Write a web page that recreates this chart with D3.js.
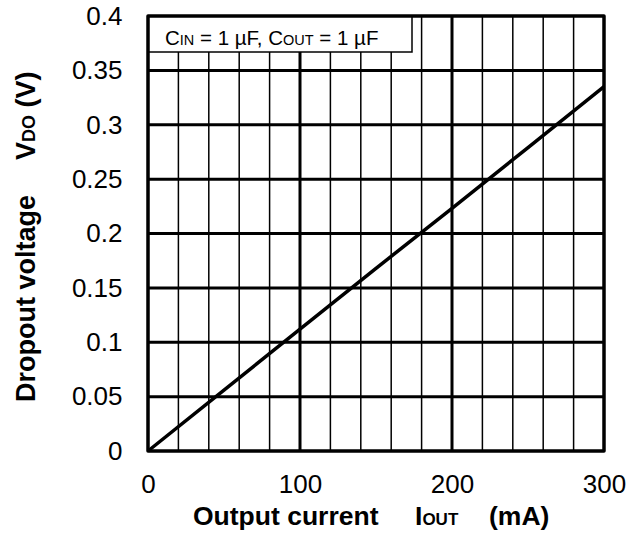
<!DOCTYPE html>
<html>
<head>
<meta charset="utf-8">
<script src="https://cdn.jsdelivr.net/npm/d3@7"></script>
<style>
  body { margin: 0; background: #fff; }
  text { font-family: "Liberation Sans", Arial, sans-serif; fill: #000; }
</style>
</head>
<body>
<script>
// data
var currents = [0, 50, 100, 150, 200, 250, 300];          // mA
var dropout = [0, 0.056, 0.112, 0.168, 0.223, 0.279, 0.335]; // V
var xTicks = [0, 100, 200, 300];
var yTicks = [0, 0.05, 0.1, 0.15, 0.2, 0.25, 0.3, 0.35, 0.4];
var xMinor = d3.range(20, 300, 20);
var legendText = ["C", "IN", " = 1 µF, C", "OUT", " = 1 µF"];

var width = 637, height = 535;
var plotL = 148, plotR = 604, plotT = 16, plotB = 451;

var svg = d3.select("body").append("svg")
	.attr("width", width)
	.attr("height", height);

var x = d3.scaleLinear().domain([0, 300]).range([plotL, plotR]);
var y = d3.scaleLinear().domain([0, 0.4]).range([plotB, plotT]);

// vertical grid, thin minor and thick major
svg.selectAll("line.vgrid")
	.data(xMinor)
	.enter()
	.append("line")
	.attr("x1", function(d) { return x(d); })
	.attr("x2", function(d) { return x(d); })
	.attr("y1", plotT)
	.attr("y2", plotB)
	.attr("stroke", "#000")
	.attr("stroke-width", function(d) { return d % 100 === 0 ? 3 : 1.5; });

// horizontal grid
svg.selectAll("line.hgrid")
	.data(yTicks.slice(1, -1))
	.enter()
	.append("line")
	.attr("x1", plotL)
	.attr("x2", plotR)
	.attr("y1", function(d) { return y(d); })
	.attr("y2", function(d) { return y(d); })
	.attr("stroke", "#000")
	.attr("stroke-width", 3);

// the curve
var line = d3.line()
	.x(function(d, i) { return x(currents[i]); })
	.y(function(d) { return y(d); });

svg.append("path")
	.datum(dropout)
	.attr("d", line)
	.attr("fill", "none")
	.attr("stroke", "#000")
	.attr("stroke-width", 3.5);

// legend box
var legend = svg.append("g");
legend.append("rect")
	.attr("x", plotL)
	.attr("y", plotT)
	.attr("width", 264)
	.attr("height", 36)
	.attr("fill", "#fff")
	.attr("stroke", "#000")
	.attr("stroke-width", 1.5);

var lt = legend.append("text")
	.attr("x", 165)
	.attr("y", 45)
	.style("font-size", "20.5px");
legendText.forEach(function(s, i) {
	var t = lt.append("tspan").text(s);
	if (i % 2 === 1) {
		t.style("font-size", "14.5px");
	}
});

// frame
svg.append("rect")
	.attr("x", plotL)
	.attr("y", plotT)
	.attr("width", plotR - plotL)
	.attr("height", plotB - plotT)
	.attr("fill", "none")
	.attr("stroke", "#000")
	.attr("stroke-width", 3.5)
	.attr("stroke-linejoin", "round");

// axes labels with d3 axes, lines hidden
var xAxis = svg.append("g")
	.attr("transform", "translate(0," + plotB + ")")
	.call(d3.axisBottom(x).tickValues(xTicks).tickSize(0).tickPadding(23.5).tickFormat(d3.format("d")));
var yAxis = svg.append("g")
	.attr("transform", "translate(" + plotL + ",0)")
	.call(d3.axisLeft(y).tickValues(yTicks).tickSize(0).tickPadding(25.5).tickFormat(function(d) { return d3.format("")(+d.toFixed(2)); }));

[xAxis, yAxis].forEach(function(a) {
	a.select(".domain").remove();
	a.selectAll("text")
		.style("font-family", "'Liberation Sans', Arial, sans-serif")
		.style("font-size", "26px")
		.attr("fill", "#000");
});

// x title
var xt = svg.append("text")
	.attr("y", 525)
	.style("font-size", "26.5px")
	.style("font-weight", "bold");
xt.append("tspan").attr("x", 193).text("Output current");
xt.append("tspan").attr("x", 415).text("I");
xt.append("tspan").style("font-size", "17px").text("OUT");
xt.append("tspan").attr("x", 489).text("(mA)");

// y title
var yt = svg.append("text")
	.attr("transform", "translate(35,0) rotate(-90)")
	.style("font-size", "27px")
	.style("font-weight", "bold");
yt.append("tspan").attr("x", -402).text("Dropout voltage");
yt.append("tspan").attr("x", -160).text("V");
yt.append("tspan").style("font-size", "18px").text("DO");
yt.append("tspan").text(" (V)");
</script>
</body>
</html>
